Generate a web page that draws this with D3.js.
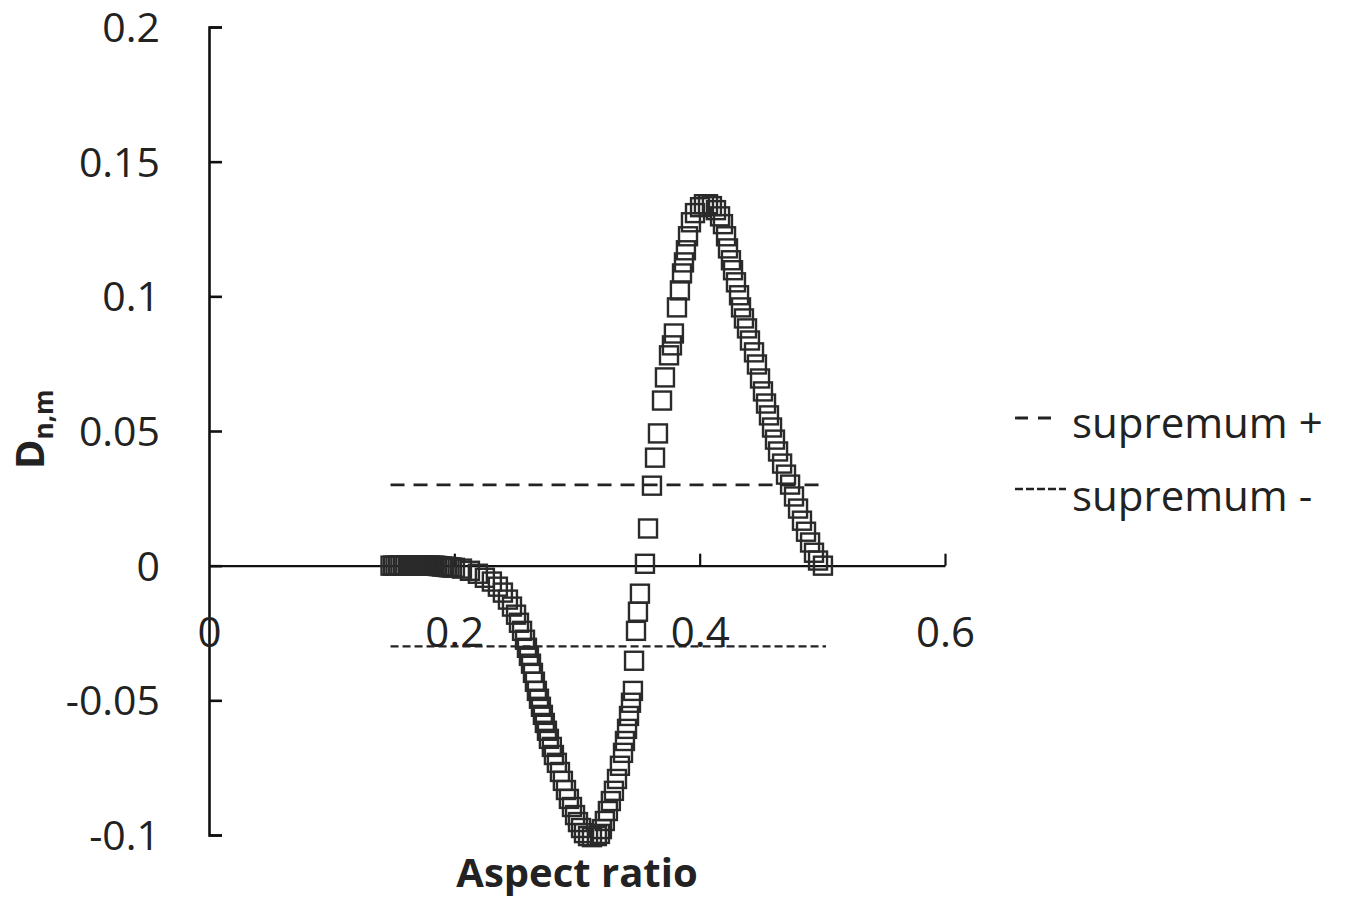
<!DOCTYPE html>
<html>
<head>
<meta charset="utf-8">
<script src="https://cdn.jsdelivr.net/npm/d3@7"></script>
<style>
  html, body { margin: 0; padding: 0; background: #fff; }
  svg { display: block; }
  text { font-family: "Open Sans", "Liberation Sans", sans-serif; fill: #222; }
</style>
</head>
<body>
<svg id="chart" width="1347" height="903"></svg>
<script>
// Aspect ratio (x) and D_{n,m} (y) of each sample point
const aspectRatio = [
  0.148, 0.150, 0.152, 0.154, 0.156, 0.158, 0.160, 0.162, 0.164, 0.166,
  0.168, 0.170, 0.172, 0.174, 0.176, 0.178, 0.180, 0.182, 0.184, 0.186,
  0.188, 0.190, 0.192, 0.194, 0.196, 0.198, 0.2005, 0.2062, 0.2127, 0.2192,
  0.2249, 0.2306, 0.2355, 0.2396, 0.2437, 0.2470, 0.2503, 0.2527, 0.2552, 0.2576,
  0.2592, 0.2608, 0.2625, 0.2641, 0.2657, 0.2673, 0.2690, 0.2706, 0.2722, 0.2738,
  0.2755, 0.2771, 0.2795, 0.2812, 0.2836, 0.2861, 0.2885, 0.2910, 0.2934, 0.2959,
  0.2984, 0.3008, 0.3033, 0.3057, 0.3090, 0.3122, 0.3162, 0.3187, 0.3203, 0.3227,
  0.3252, 0.3276, 0.3301, 0.3326, 0.3350, 0.3375, 0.3391, 0.3408, 0.3424, 0.3440,
  0.3456, 0.3465, 0.3481, 0.3497, 0.3513, 0.3554, 0.3579, 0.3611, 0.3636, 0.3660,
  0.3693, 0.3717, 0.3750, 0.3774, 0.3790, 0.3815, 0.3839, 0.3856, 0.3872, 0.3888,
  0.3905, 0.3929, 0.3962, 0.4003, 0.4035, 0.4068, 0.4100, 0.4133, 0.4166, 0.4190,
  0.4215, 0.4231, 0.4255, 0.4272, 0.4296, 0.4321, 0.4337, 0.4361, 0.4386, 0.4410,
  0.4443, 0.4467, 0.4492, 0.4516, 0.4541, 0.4565, 0.4590, 0.4614, 0.4639, 0.4672,
  0.4704, 0.4737, 0.4769, 0.4802, 0.4834, 0.4867, 0.4900, 0.4932, 0.4965, 0.5005
];
const dnm = [
  0, 0, 0, 0, 0, 0, 0, 0, 0, 0,
  0, 0, 0, 0, 0, 0, 0, 0, 0, -0.0001,
  -0.0002, -0.0003, -0.0004, -0.0005, -0.0006, -0.0007, -0.0008, -0.0011, -0.0019, -0.0030,
  -0.0045, -0.0059, -0.0078, -0.0100, -0.0126, -0.0152, -0.0182, -0.0212, -0.0242, -0.0275,
  -0.0305, -0.0335, -0.0364, -0.0398, -0.0431, -0.0465, -0.0494, -0.0524, -0.0554, -0.0584,
  -0.0613, -0.0643, -0.0673, -0.0703, -0.0732, -0.0766, -0.0799, -0.0833, -0.0866, -0.0896,
  -0.0926, -0.0952, -0.0974, -0.0993, -0.1004, -0.1008, -0.1004, -0.0996, -0.0978, -0.0948,
  -0.0911, -0.0874, -0.0836, -0.0792, -0.0743, -0.0695, -0.0651, -0.0606, -0.0558, -0.0509,
  -0.0465, -0.0353, -0.0242, -0.0171, -0.0104, 0.0007, 0.0138, 0.0297, 0.0401, 0.0491,
  0.0613, 0.0699, 0.0781, 0.0818, 0.0862, 0.0959, 0.1022, 0.1085, 0.1126, 0.1171,
  0.1223, 0.1275, 0.1309, 0.1331, 0.1342, 0.1342, 0.1335, 0.1320, 0.1297, 0.1268,
  0.1223, 0.1178, 0.1134, 0.1097, 0.1052, 0.1004, 0.0959, 0.0918, 0.0881, 0.0836,
  0.0792, 0.0747, 0.0695, 0.0647, 0.0602, 0.0558, 0.0513, 0.0468, 0.0424, 0.0379,
  0.0338, 0.0301, 0.0257, 0.0212, 0.0167, 0.0126, 0.0086, 0.0048, 0.0019, 0
];

// Supremum bounds (critical values) and the aspect ratio range they span
const supremumLevels = [0.03, -0.03];
const supremumNames = ["supremum +", "supremum -"];
const supremumRange = [0.148, 0.503];

// Axis ticks
const xTicks = [0, 0.2, 0.4, 0.6];
const xTickLabels = ["0", "0.2", "0.4", "0.6"];
const yTicks = [0.2, 0.15, 0.1, 0.05, 0, -0.05, -0.1];
const yTickLabels = ["0.2", "0.15", "0.1", "0.05", "0", "-0.05", "-0.1"];

const svg = d3.select("#chart");

const x = d3.scaleLinear().domain([0, 0.6]).range([209, 945]);
const y = d3.scaleLinear().domain([-0.1, 0.2]).range([835, 27]);

// y axis: ticks point inward (to the right)
const yAxis = d3.axisLeft(y)
  .tickValues(yTicks)
  .tickFormat((d, i) => yTickLabels[i])
  .tickSizeInner(-13)
  .tickSizeOuter(-13)
  .tickPadding(49);
const gy = svg.append("g").attr("transform", `translate(${x(0)},0)`).call(yAxis);
gy.select(".domain").attr("stroke", "#111").attr("stroke-width", 2.6);
gy.selectAll(".tick line").attr("stroke", "#111").attr("stroke-width", 2.6);
gy.selectAll(".tick text").attr("font-size", 41).attr("fill", "#222")
  .attr("font-family", "'Open Sans', sans-serif").attr("dy", "0.35em");

// x axis sits at D = 0 with ticks pointing up
const xAxis = d3.axisBottom(x)
  .tickValues(xTicks)
  .tickFormat((d, i) => xTickLabels[i])
  .tickSizeInner(-12)
  .tickSizeOuter(0)
  .tickPadding(52);
const gx = svg.append("g").attr("transform", `translate(0,${y(0)})`).call(xAxis);
gx.select(".domain").attr("stroke", "#111").attr("stroke-width", 2.2);
gx.selectAll(".tick line").attr("stroke", "#111").attr("stroke-width", 2.2);
gx.selectAll(".tick").filter(d => d === 0).select("line").remove();
gx.selectAll(".tick text").attr("font-size", 42).attr("fill", "#222")
  .attr("font-family", "'Open Sans', sans-serif");

// Supremum lines
const dashStyles = [
  { dash: "14,9", width: 2.8 },
  { dash: "8,4", width: 2.3 }
];
svg.append("g").selectAll("line")
  .data(supremumLevels)
  .join("line")
  .attr("x1", x(supremumRange[0]))
  .attr("x2", x(supremumRange[1]))
  .attr("y1", d => y(d))
  .attr("y2", d => y(d))
  .attr("stroke", "#222")
  .attr("stroke-width", (d, i) => dashStyles[i].width)
  .attr("stroke-dasharray", (d, i) => dashStyles[i].dash);

// Data points: open squares
const size = 18;
const points = aspectRatio.map((a, i) => ({ a, d: dnm[i] }));
svg.append("g").selectAll("rect")
  .data(points)
  .join("rect")
  .attr("x", p => x(p.a) - size / 2)
  .attr("y", p => y(p.d) - size / 2)
  .attr("width", size)
  .attr("height", size)
  .attr("fill", "none")
  .attr("stroke", "#2a2a2a")
  .attr("stroke-width", 2.4);

// Legend
const legend = svg.append("g");
const legendY = [418, 489];
const legendText = [438, 511];
legend.selectAll("line")
  .data(supremumNames)
  .join("line")
  .attr("x1", 1015).attr("x2", (d, i) => i === 0 ? 1055 : 1066)
  .attr("y1", (d, i) => legendY[i]).attr("y2", (d, i) => legendY[i])
  .attr("stroke", "#222")
  .attr("stroke-width", (d, i) => dashStyles[i].width)
  .attr("stroke-dasharray", (d, i) => i === 0 ? "13,10" : "8,3");
legend.selectAll("text")
  .data(supremumNames)
  .join("text")
  .attr("x", 1072)
  .attr("y", (d, i) => legendText[i])
  .attr("font-size", 42)
  .text(d => d);

// Axis titles
svg.append("text")
  .attr("x", 577).attr("y", 887)
  .attr("text-anchor", "middle")
  .attr("font-size", 40)
  .attr("font-weight", "bold")
  .text("Aspect ratio");

const yTitle = svg.append("text")
  .attr("transform", "translate(44,469) rotate(-90)")
  .attr("font-weight", "bold")
  .attr("font-size", 40);
yTitle.append("tspan").text("D");
yTitle.append("tspan").attr("font-size", 26).attr("dy", 9).text("n,m");
</script>
</body>
</html>
